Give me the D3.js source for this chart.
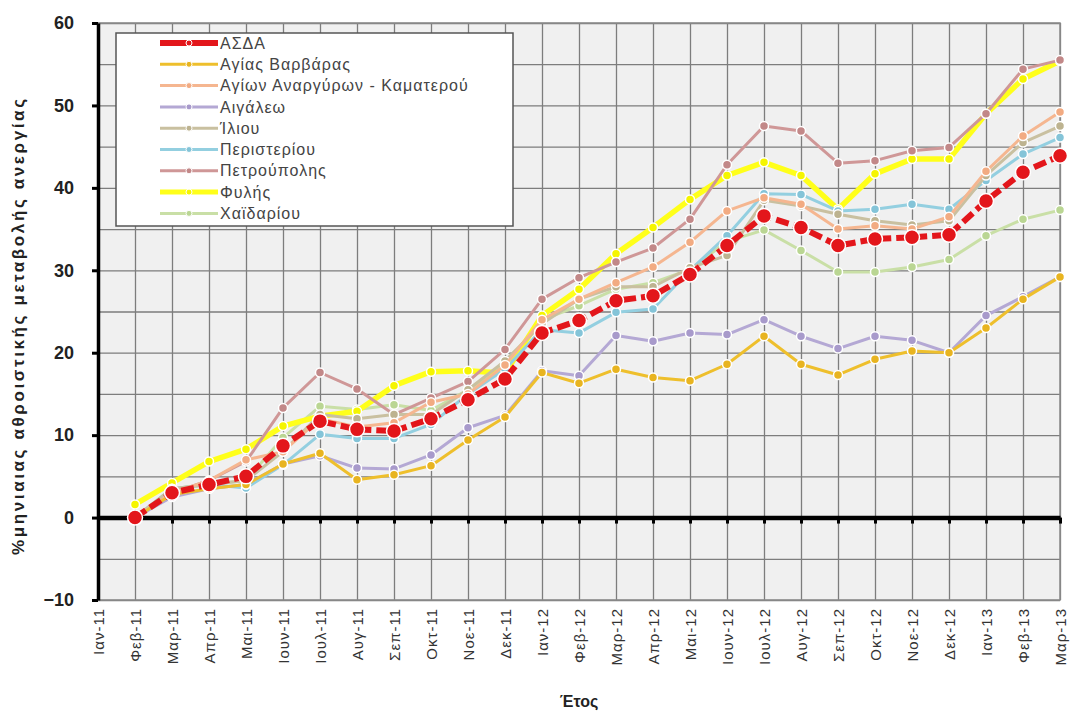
<!DOCTYPE html>
<html><head><meta charset="utf-8">
<script src="https://cdn.jsdelivr.net/npm/d3@7"></script>
<style>
html,body{margin:0;padding:0;background:#fff;}
svg{display:block;font-family:"Liberation Sans",Arial,sans-serif;}
</style></head>
<body><svg id="c" width="1075" height="718"></svg>
<script>
const months = ["Ιαν-11","Φεβ-11","Μαρ-11","Απρ-11","Μαι-11","Ιουν-11","Ιουλ-11","Αυγ-11","Σεπ-11","Οκτ-11","Νοε-11","Δεκ-11",
"Ιαν-12","Φεβ-12","Μαρ-12","Απρ-12","Μαι-12","Ιουν-12","Ιουλ-12","Αυγ-12","Σεπ-12","Οκτ-12","Νοε-12","Δεκ-12",
"Ιαν-13","Φεβ-13","Μαρ-13"];
const yTicks = [-10,0,10,20,30,40,50,60];

const seriesNames = ["ΑΣΔΑ","Αγίας Βαρβάρας","Αγίων Αναργύρων - Καματερού","Αιγάλεω","Ίλιου","Περιστερίου","Πετρούπολης","Φυλής","Χαϊδαρίου"];

const asda      = [null,0,3.0,4.0,5.0,8.7,11.7,10.7,10.5,12.0,14.3,16.8,22.4,23.9,26.3,26.9,29.5,33.0,36.6,35.2,33.0,33.8,34.0,34.3,38.4,41.9,43.9];
const agVarvara = [null,0,2.8,3.5,4.0,6.5,7.8,4.6,5.2,6.3,9.4,12.2,17.6,16.3,18.0,17.0,16.6,18.6,22.0,18.6,17.3,19.2,20.2,20.0,23.0,26.5,29.2];
const agAnarg   = [null,0,3.0,4.5,7.0,8.0,12.0,11.0,11.5,14.0,15.0,18.5,24.0,26.5,28.5,30.4,33.4,37.2,38.8,38.0,35.0,35.4,35.0,36.5,42.0,46.3,49.2];
const aigaleo   = [null,0,2.5,3.5,4.0,6.5,7.5,6.0,5.9,7.6,10.9,12.4,17.8,17.2,22.1,21.4,22.4,22.2,24.0,22.0,20.5,22.0,21.5,20.0,24.5,26.8,29.2];
const iliou     = [null,0,3.5,4.0,4.5,8.0,12.5,12.0,12.5,12.5,15.5,19.0,23.5,26.5,28.0,28.0,30.3,31.8,38.5,37.8,36.8,36.0,35.5,36.0,41.5,45.5,47.5];
const peristeri = [null,0,3.5,4.0,3.6,6.4,10.1,9.6,9.6,11.3,15.0,18.0,22.8,22.4,24.9,25.3,30.0,34.2,39.3,39.2,37.2,37.4,38.0,37.4,40.9,44.1,46.1];
const petroup   = [null,0,3.0,4.5,6.8,13.3,17.6,15.6,12.5,14.5,16.5,20.4,26.5,29.1,31.0,32.7,36.2,42.8,47.5,46.9,43.0,43.3,44.5,44.9,49.0,54.4,55.5];
const fylis     = [null,1.6,4.2,6.8,8.3,11.1,12.3,12.9,16.0,17.7,17.8,17.5,24.5,27.7,32.0,35.2,38.6,41.5,43.1,41.5,37.4,41.7,43.5,43.5,49.0,53.2,55.4];
const chaidari  = [null,0,3.5,4.0,4.5,9.7,13.5,13.1,13.7,13.0,15.5,18.5,24.0,25.7,27.7,28.5,30.1,33.5,34.9,32.4,29.8,29.8,30.4,31.3,34.2,36.2,37.3];

const seriesValues = [asda,agVarvara,agAnarg,aigaleo,iliou,peristeri,petroup,fylis,chaidari];
const colors  = ["#e3161b","#eebf2c","#f5b690","#b4a8d4","#c9c0a0","#93cfe0","#cf9797","#ffff1a","#c9dfa6"];
const mfill   = ["#e3161b","#e8b420","#f2ab82","#a89acb","#bdb390","#84c4d8","#c28888","#f5f500","#bad693"];
const widths  = [6,3,3,3,3,3,3,5.5,3];
const radii   = [7.5,4.5,4.5,4.5,4.5,4.5,4.5,4.5,4.5];

const L=98, R=1060, T=23, B=600;
const svg = d3.select("#c");
const x = d3.scalePoint().domain(months).range([L,R]);
const y = d3.scaleLinear().domain([-10,60]).range([B,T]);

// plot background
svg.append("rect").attr("x",L).attr("y",T).attr("width",R-L).attr("height",B-T).attr("fill","#f0f0f0");

// gridlines
svg.append("g").attr("transform",`translate(${L},0)`)
  .call(d3.axisLeft(y).tickValues(d3.range(-10,61,5)).tickSize(-(R-L)).tickFormat(""))
  .call(g=>{g.select(".domain").remove(); g.selectAll("line").attr("stroke","#7d7d7d").attr("stroke-width",1.3);});
svg.append("g").attr("transform",`translate(0,${B})`)
  .call(d3.axisBottom(x).tickSize(-(B-T)).tickFormat(""))
  .call(g=>{g.select(".domain").remove(); g.selectAll("line").attr("stroke","#7d7d7d").attr("stroke-width",1.3);});

// frame
svg.append("rect").attr("x",L).attr("y",T).attr("width",R-L).attr("height",B-T).attr("fill","none").attr("stroke","#8a8a8a").attr("stroke-width",1.5);

// x axis at zero
svg.append("g").attr("transform",`translate(0,${y(0)})`)
  .call(d3.axisBottom(x).tickSize(6).tickFormat("").tickSizeOuter(0))
  .call(g=>{g.select(".domain").attr("stroke","#000").attr("stroke-width",4.5);
            g.selectAll("line").attr("stroke","#000").attr("stroke-width",3);});

// y axis
svg.append("g").attr("transform",`translate(${L},0)`)
  .call(d3.axisLeft(y).tickValues(yTicks).tickSize(6).tickSizeOuter(0).tickPadding(18))
  .call(g=>{g.select(".domain").attr("stroke","#000").attr("stroke-width",3.5);
            g.selectAll("line").attr("stroke","#000").attr("stroke-width",3);
            g.selectAll("text").attr("font-size",18).attr("font-weight","bold").attr("fill","#222");});

// x tick labels
svg.append("g").attr("transform",`translate(0,${B})`)
  .call(d3.axisBottom(x).tickSize(0).tickFormat(d=>d))
  .call(g=>{g.select(".domain").remove();
            g.selectAll("text").attr("transform","rotate(-90)").attr("x",-8).attr("y",0).attr("dy","0.35em")
             .style("text-anchor","end").attr("font-size",15).attr("letter-spacing","1px").attr("fill","#333");});

// axis titles
svg.append("text").attr("transform","translate(24,327) rotate(-90)").attr("text-anchor","middle")
  .attr("font-size",17).attr("font-weight","bold").attr("fill","#222")
  .attr("textLength",456).attr("lengthAdjust","spacing")
  .text("%μηνιαιας αθροιστικής μεταβολής ανεργίας");
svg.append("text").attr("x",(L+R)/2).attr("y",707).attr("text-anchor","middle")
  .attr("font-size",16).attr("font-weight","bold").attr("fill","#222").text("Έτος");

// series (ΑΣΔΑ on top)
const order = [8,7,6,5,4,3,2,1,0];
const line = d3.line().defined(d=>d!=null).x((d,i)=>x(months[i])).y(d=>y(d));
order.forEach(k=>{
  const vals = seriesValues[k];
  const g = svg.append("g");
  g.append("path").datum(vals).attr("d",line).attr("fill","none")
    .attr("stroke",colors[k]).attr("stroke-width",widths[k]).attr("stroke-linejoin","round")
    .attr("stroke-dasharray",k===0?"13,5":null);
  g.selectAll("circle").data(vals.map((v,i)=>({v,i})).filter(d=>d.v!=null)).join("circle")
    .attr("cx",d=>x(months[d.i])).attr("cy",d=>y(d.v)).attr("r",radii[k])
    .attr("fill",mfill[k]).attr("stroke","#fff").attr("stroke-width",1.5);
});

// legend
const lg = svg.append("g");
lg.append("rect").attr("x",116).attr("y",33).attr("width",397).attr("height",193).attr("fill","#fff")
  .attr("stroke","#555").attr("stroke-width",1.5);
seriesNames.forEach((n,k)=>{
  const yy = 43 + k*21.3;
  lg.append("line").attr("x1",160).attr("x2",218).attr("y1",yy).attr("y2",yy)
    .attr("stroke",colors[k]).attr("stroke-width",k===0?6:(k===7?5:3));
  lg.append("circle").attr("cx",189).attr("cy",yy).attr("r",3).attr("fill",mfill[k]).attr("stroke","#fff").attr("stroke-width",1);
  lg.append("text").attr("x",220).attr("y",yy).attr("dy","0.35em").attr("font-size",16).attr("letter-spacing","1px").attr("fill","#444").text(n);
});
</script></body></html>
